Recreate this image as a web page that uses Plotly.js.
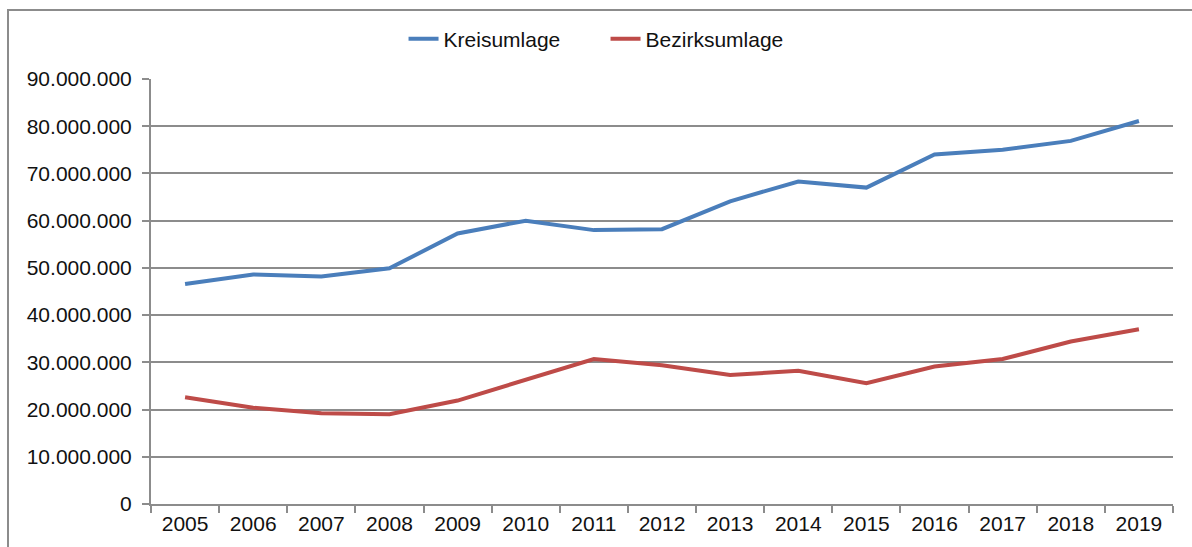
<!DOCTYPE html>
<html>
<head>
<meta charset="utf-8">
<script src="https://cdn.plot.ly/plotly-3.0.1.min.js"></script>
<style>
  html, body { margin: 0; padding: 0; background: #fff; overflow: hidden; }
  #frame { position: absolute; left: 7px; top: 9px; width: 1300px; height: 700px;
           border-left: 2px solid #8c8c8c; border-top: 2px solid #8c8c8c; }
  #chart { position: absolute; left: 0; top: 0; width: 1192px; height: 547px; }
</style>
</head>
<body>
<div id="frame"></div>
<div id="chart"></div>
<script>
const years = ['2005','2006','2007','2008','2009','2010','2011','2012','2013','2014','2015','2016','2017','2018','2019'];
const kreisumlage = [46600000, 48600000, 48200000, 49900000, 57300000, 60000000, 58000000, 58200000, 64100000, 68300000, 67000000, 74000000, 75000000, 76900000, 81100000];
const bezirksumlage = [22600000, 20400000, 19200000, 19000000, 21900000, 26300000, 30700000, 29400000, 27300000, 28200000, 25600000, 29100000, 30700000, 34400000, 37000000];
const seriesNames = ['Kreisumlage', 'Bezirksumlage'];

const font = 'Liberation Sans, Arial, sans-serif';
const grey = '#8c8c8c';

const traces = [
  { x: years, y: kreisumlage, name: seriesNames[0], type: 'scatter', mode: 'lines',
    line: { color: '#4a7ebb', width: 4 } },
  { x: years, y: bezirksumlage, name: seriesNames[1], type: 'scatter', mode: 'lines',
    line: { color: '#be4b48', width: 4 } }
];

const layout = {
  width: 1192, height: 547,
  margin: { l: 151, r: 19, t: 79, b: 43, autoexpand: false },
  paper_bgcolor: 'rgba(0,0,0,0)',
  plot_bgcolor: 'rgba(0,0,0,0)',
  separators: ',.',
  font: { family: font, size: 21, color: '#111' },
  showlegend: true,
  legend: {
    orientation: 'h', xref: 'container', yref: 'container',
    x: 0.508, xanchor: 'center', y: 1 - 39 / 547, yanchor: 'middle',
    font: { family: font, size: 21, color: '#111' },
    entrywidth: 157, entrywidthmode: 'pixels',
    itemwidth: 30, tracegroupgap: 0
  },
  xaxis: {
    type: 'category', range: [-0.5, 14.5],
    showgrid: false, zeroline: false,
    showline: true, linecolor: grey, linewidth: 2,
    ticks: 'outside', tickson: 'boundaries', ticklen: 7, tickcolor: grey, tickwidth: 2,
    tickfont: { family: font, size: 21, color: '#111' }
  },
  yaxis: {
    range: [0, 90000000], dtick: 10000000, tick0: 0,
    tickformat: ',d',
    showgrid: true, gridcolor: grey, gridwidth: 2,
    zeroline: false,
    showline: true, linecolor: grey, linewidth: 2,
    ticks: 'outside', ticklen: 7, tickcolor: grey, tickwidth: 2,
    ticklabelstandoff: 6,
    tickfont: { family: font, size: 21, color: '#111' }
  }
};

Plotly.newPlot('chart', traces, layout, { displayModeBar: false, staticPlot: true });
</script>
</body>
</html>
